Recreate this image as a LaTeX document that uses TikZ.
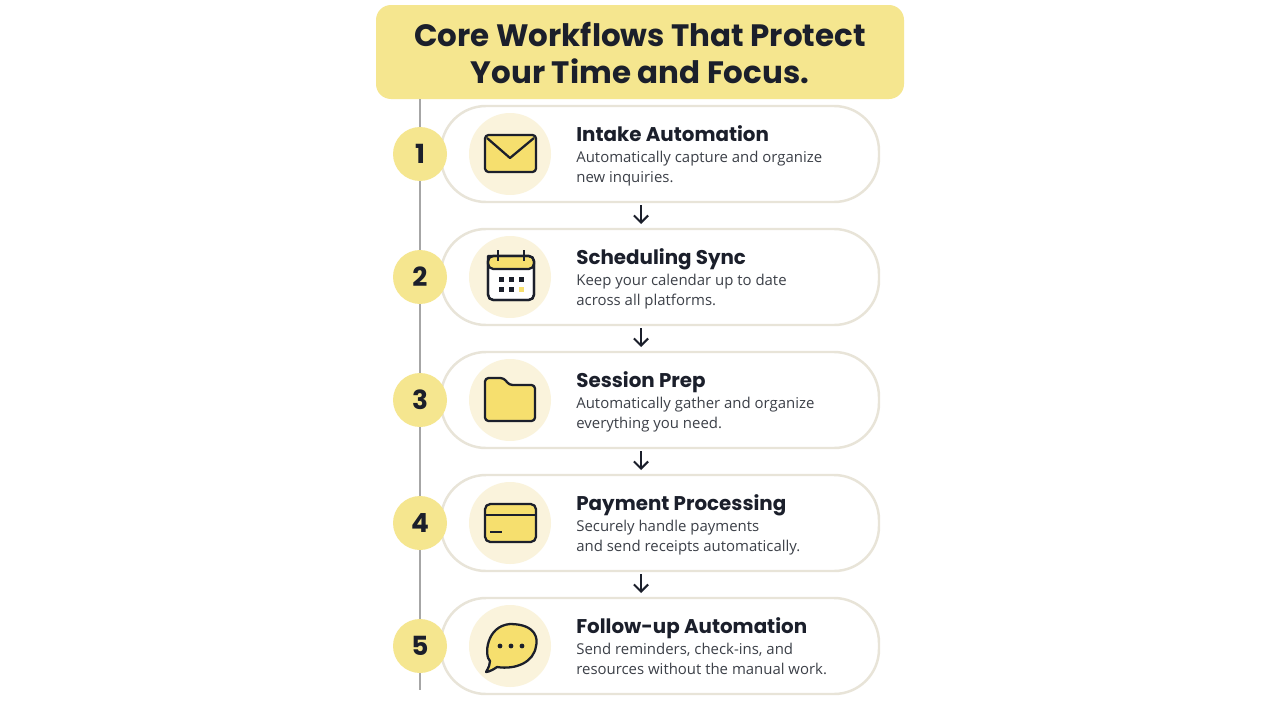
\documentclass[tikz,border=0pt]{standalone}
\usepackage{fontspec}
\setmainfont{Open Sans}
\newfontfamily\headfont{Poppins}
\usetikzlibrary{arrows.meta}
\definecolor{hiyel}{HTML}{F5E68F}
\definecolor{iconyel}{HTML}{F6DF6E}
\definecolor{pale}{HTML}{FAF3DC}
\definecolor{edge}{HTML}{E8E4D8}
\definecolor{ink}{HTML}{1B1F2B}
\definecolor{txt}{HTML}{3C4048}
\begin{document}
\begin{tikzpicture}[x=0.02cm,y=-0.02cm]
\tikzset{ >={Straight Barb[length=4pt]},
  card/.style={draw=edge, line width=1.4pt, fill=white, rounded corners=0.9cm},
  num/.style={circle, fill=hiyel, minimum size=1.08cm, inner sep=0pt, font=\headfont\bfseries\fontsize{15}{15}\selectfont, text=ink},
  halo/.style={circle, fill=pale, minimum size=1.64cm, inner sep=0pt},
  head/.style={anchor=base west, inner sep=0pt, font=\headfont\bfseries\fontsize{11.3}{11.3}\selectfont, text=ink},
  desc/.style={anchor=north west, inner sep=0pt, align=left, font=\fontsize{8.5}{11.4}\selectfont, text=txt},
  icon/.style={draw=ink, line width=1.3pt, fill=iconyel, line join=round},
}
\useasboundingbox (0,0) rectangle (1280,720);
\fill[white] (0,0) rectangle (1280,720);

% Titel
\fill[hiyel, rounded corners=0.3cm] (376,5) rectangle (904,99);
\node[align=center, font=\headfont\bfseries\fontsize{17.6}{20.5}\selectfont, text=ink] (TIT) at (640,53) {Core Workflows That Protect\\Your Time and Focus.};

% Linie
\draw[gray!70, line width=1.2pt] (420,99) -- (420,690);

%%% Karten
\foreach \i/\y/\t/\a/\b in {
  1/154/Intake Automation/Automatically capture and organize/new inquiries.,
  2/277/Scheduling Sync/Keep your calendar up to date/across all platforms.,
  3/400/Session Prep/Automatically gather and organize/everything you need.,
  4/523/Payment Processing/Securely handle payments/and send receipts automatically.,
  5/646/Follow-up Automation/{Send reminders, check-ins, and}/resources without the manual work.}{
  \draw[card] (441,\y-48) rectangle (879,\y+48);
  \node[num] (N\i) at (420,\y) {\i};
  \node[halo] (H\i) at (510,\y) {};
  \node[head] (T\i) at (576,\y-13) {\t};
  \node[desc] (D\i) at (576,\y-3) {\a\\\b};
  \coordinate (TOP\i) at (641,\y-50);
  \coordinate (BOT\i) at (641,\y+51);
}

% Pfeile
\foreach \i/\j in {1/2,2/3,3/4,4/5}
  \draw[->, ink, line width=1.2pt] (BOT\i) -- ([yshift=0.06cm]TOP\j);

%%% Symbole
% Brief
\draw[icon, rounded corners=2pt] (485,135) rectangle (536,172);
\draw[ink, line width=1.3pt, line join=round] (487,138) -- (510,158) -- (534,138);
% Kalender
\draw[draw=ink, line width=1.3pt, fill=white, rounded corners=3pt] (488,256) rectangle (534,300);
\draw[icon, rounded corners=3pt] (488,256) -- (488,269) -- (534,269) -- (534,256) [sharp corners]-- cycle;
\draw[draw=ink, line width=1.3pt, rounded corners=3pt] (488,256) rectangle (534,300);
\draw[ink, line width=1.4pt] (498,250) -- (498,261) (524,250) -- (524,261);
\foreach \x/\yy/\c in {501/279/ink,511/279/ink,521/279/ink,501/289/ink,511/289/ink,521/289/iconyel}
  \fill[\c] (\x-2.5,\yy-2.5) rectangle (\x+2.5,\yy+2.5);
% Ordner
\draw[icon, rounded corners=2pt] (485,378) -- (504,378) -- (509,385) -- (535,385) -- (535,421) -- (485,421) -- cycle;
% Karte
\draw[icon, rounded corners=3pt] (485,504) rectangle (536,542);
\draw[ink, line width=1.3pt] (485,515) -- (536,515);
\draw[ink, line width=1.3pt] (490,532) -- (502,532);
% Sprechblase
\draw[icon] (497,667) .. controls (490,672) and (486,672) .. (486,672) .. controls (489,667) and (490,664) .. (490,661)
  .. controls (484,656) and (486,626) .. (510,624) .. controls (537,624) and (538,640) .. (536,646)
  .. controls (534,662) and (516,670) .. (497,667) -- cycle;
\foreach \x in {500,511,522} \fill[ink] (\x,646) circle (2.4);
\end{tikzpicture}
\end{document}
